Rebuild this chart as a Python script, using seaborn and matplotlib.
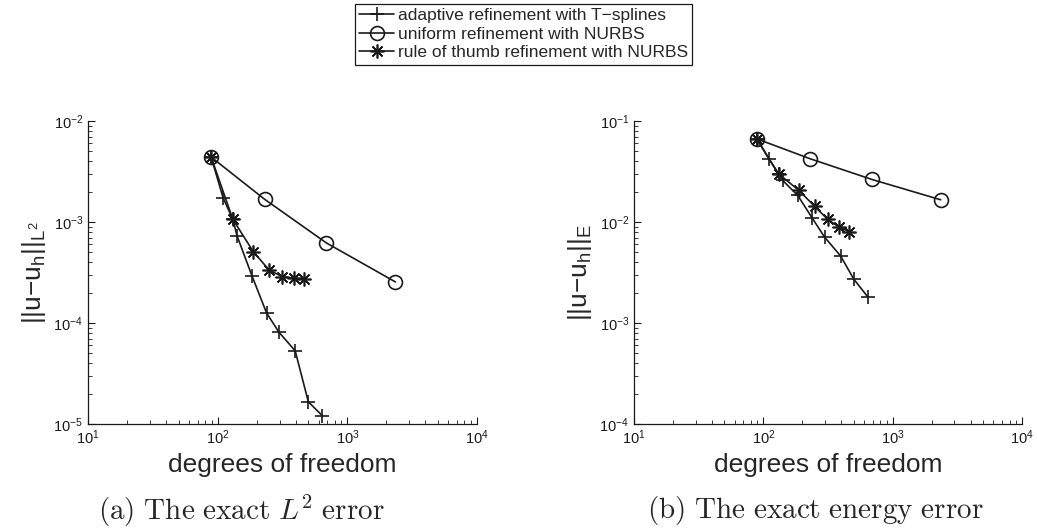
import matplotlib
matplotlib.use("Agg")
import seaborn as sns
import matplotlib.pyplot as plt

# degrees of freedom for each refinement strategy
dofs_adaptive = [89, 110, 131, 141, 184, 238, 297, 396, 500, 640]
dofs_uniform = [89, 230, 690, 2350]
dofs_thumb = [89, 131, 188, 249, 315, 385, 463]

# exact L2 error
l2_adaptive = [4.4e-3, 1.74e-3, 1.06e-3, 7.3e-4, 2.92e-4, 1.26e-4, 8.1e-5, 5.3e-5, 1.66e-5, 1.21e-5]
l2_uniform = [4.4e-3, 1.68e-3, 6.2e-4, 2.55e-4]
l2_thumb = [4.4e-3, 1.06e-3, 5.1e-4, 3.35e-4, 2.88e-4, 2.77e-4, 2.72e-4]

# exact energy error
en_adaptive = [0.0666, 0.0423, 0.030, 0.0258, 0.0184, 0.0110, 7.1e-3, 4.6e-3, 2.72e-3, 1.82e-3]
en_uniform = [0.0666, 0.0423, 0.0264, 0.0166]
en_thumb = [0.0666, 0.030, 0.0206, 0.0143, 0.0106, 8.9e-3, 8.0e-3]

labels = ["adaptive refinement with T\u2212splines",
          "uniform refinement with NURBS",
          "rule of thumb refinement with NURBS"]

sns.set_theme(style="ticks")
plt.rcParams["font.family"] = ["Liberation Sans", "DejaVu Sans"]

fig = plt.figure(figsize=(10.37, 5.32), dpi=100)
ax1 = fig.add_axes([0.0849, 0.203, 0.3751, 0.5695])
ax2 = fig.add_axes([0.6114, 0.203, 0.3742, 0.5695])

asterisk = (8, 2, 0)
line_kw = dict(color="k", linewidth=1.2, markersize=10, markeredgewidth=1.2,
               markeredgecolor="k")

for ax, adapt, unif, thumb, ylab, ylo in [
        (ax1, l2_adaptive, l2_uniform, l2_thumb,
         "||u\u2212u$_{\\mathregular{h}}$||$_{\\mathregular{L^2}}$", 1e-5),
        (ax2, en_adaptive, en_uniform, en_thumb,
         "||u\u2212u$_{\\mathregular{h}}$||$_{\\mathregular{E}}$", 1e-4)]:
    sns.lineplot(x=dofs_adaptive, y=adapt, marker="+", label=labels[0], ax=ax, **line_kw)
    sns.lineplot(x=dofs_uniform, y=unif, marker="o", markerfacecolor="none",
                 label=labels[1], ax=ax, **line_kw)
    sns.lineplot(x=dofs_thumb, y=thumb, marker=asterisk, label=labels[2], ax=ax, **line_kw)
    ax.set_xscale("log")
    ax.set_yscale("log")
    ax.set_xlim(10, 1e4)
    ax.set_ylim(ylo, ylo * 1000)
    ax.set_xlabel("degrees of freedom", fontsize=19, labelpad=4)
    ax.set_ylabel(ylab, fontsize=19, labelpad=4)
    ax.tick_params(which="both", direction="in", labelsize=10.5, colors="k")
    ax.tick_params(which="major", length=5, width=0.8)
    ax.tick_params(which="minor", length=3, width=0.6)
    for s in ["left", "bottom"]:
        ax.spines[s].set_color("k")
        ax.spines[s].set_linewidth(0.9)
    sns.despine(ax=ax)
    ax.get_legend().remove()

handles, labs = ax1.get_legend_handles_labels()
leg = fig.legend(handles, labs, loc="upper center", bbox_to_anchor=(0.5048, 0.993),
                 fontsize=12.5, frameon=True, fancybox=False, edgecolor="k",
                 framealpha=1, borderpad=0.25, labelspacing=0.2,
                 handlelength=2.0, handletextpad=0.2, borderaxespad=0)
leg.get_frame().set_linewidth(0.9)

fig.text(241 / 1037, 0.0395, r"$\mathrm{(a)\ The\ exact\ }L^2\mathrm{\ error}$",
         fontsize=21, ha="center", va="center", math_fontfamily="cm")
fig.text(815 / 1037, 0.0395, r"$\mathrm{(b)\ The\ exact\ energy\ error}$",
         fontsize=21, ha="center", va="center", math_fontfamily="cm")

fig.savefig("out.png", dpi=100)
